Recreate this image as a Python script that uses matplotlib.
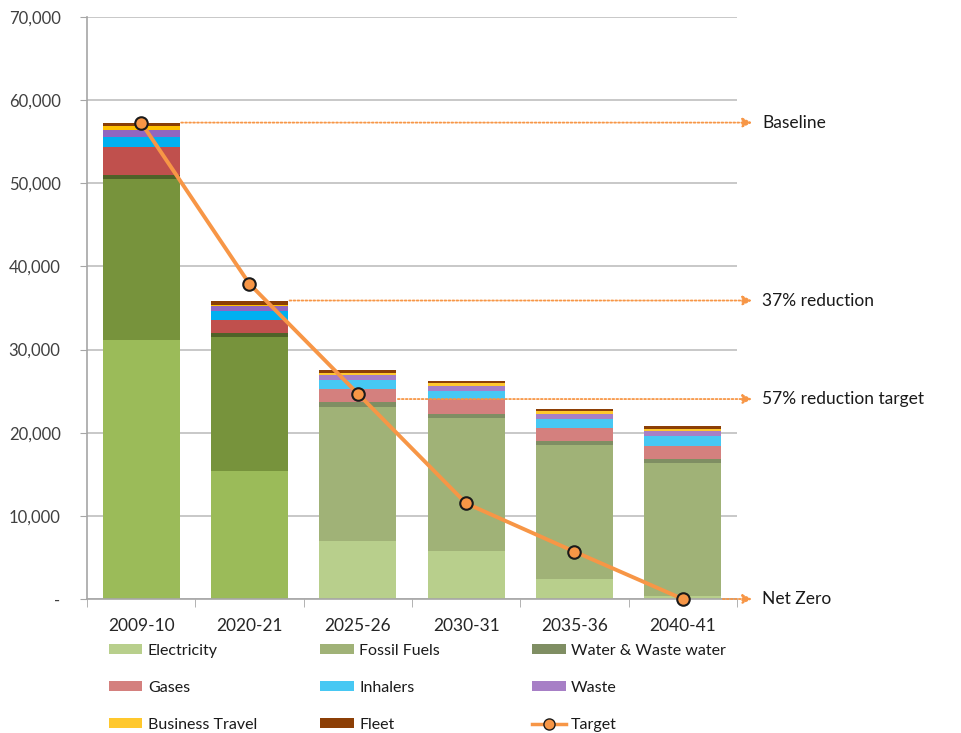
import numpy as np
import matplotlib.pyplot as plt
from matplotlib.patches import Patch
from matplotlib.lines import Line2D

plt.rcParams['font.family'] = ['Lato', 'DejaVu Sans']

years = ['2009-10', '2020-21', '2025-26', '2030-31', '2035-36', '2040-41']

# emissions by source (tCO2e)
electricity = [31200, 15400, 7000, 5800, 2400, 350]
fossil_fuels = [19300, 16100, 16100, 16000, 16100, 15970]
water = [500, 500, 600, 500, 500, 500]
gases = [3400, 1500, 1500, 1700, 1600, 1600]
inhalers = [1200, 1100, 1100, 1050, 1100, 1200]
waste = [800, 600, 600, 600, 600, 600]
business_travel = [500, 200, 300, 300, 300, 250]
fleet = [400, 500, 300, 300, 300, 350]

target = [57300, 37900, 24700, 11500, 5700, 0]

# reference lines on the right
ref_labels = ['Baseline', '37% reduction', '57% reduction target', 'Net Zero']
ref_levels = [57300, 35900, 24050, 0]
ref_start = [0, 1, 2, 5]

series = [electricity, fossil_fuels, water, gases, inhalers, waste, business_travel, fleet]
names = ['Electricity', 'Fossil Fuels', 'Water & Waste water', 'Gases', 'Inhalers',
         'Waste', 'Business Travel', 'Fleet']
# actual years in strong colours, projections in faded ones
strong = ['#9BBB59', '#77933C', '#4F6228', '#C0504D', '#00B0F0', '#9166C0', '#FFC000', '#8A3E05']
faded = ['#B8CF8C', '#A0B277', '#7F8E63', '#D4807E', '#47C8F3', '#A77FC6', '#FFC82D', '#8C3F06']

fig = plt.figure(figsize=(9.62, 7.33), dpi=100)
ax = fig.add_axes([0.0904, 0.1828, 0.6757, 0.794])

x = np.arange(len(years))
bottom = np.zeros(len(years))
for vals, cs, cf in zip(series, strong, faded):
    cols = [cs if i < 2 else cf for i in range(len(years))]
    ax.bar(x, vals, 0.71, bottom=bottom, color=cols, zorder=2)
    bottom += np.array(vals)

orange = '#F79646'
ax.plot(x, target, color=orange, lw=2.8, marker='o', ms=9, mfc=orange,
        mec='#1a1a1a', mew=1.5, zorder=4, clip_on=False)

for lab, lev, s in zip(ref_labels, ref_levels, ref_start):
    ax.annotate('', xy=(5.64, lev), xytext=(s + 0.37, lev),
                arrowprops=dict(arrowstyle='-|>', color=orange, lw=1.3,
                                linestyle=(0, (1, 1.2)), mutation_scale=14,
                                shrinkA=0, shrinkB=0),
                annotation_clip=False, zorder=3)
    ax.text(5.73, lev, lab, fontsize=12.5, color='#1a1a1a', va='center',
            ha='left', clip_on=False)

ax.set_xlim(-0.5, 5.5)
ax.set_ylim(0, 70000)
ax.set_yticks(np.arange(0, 70001, 10000))
ax.set_yticklabels(['-'] + [f'{v:,}' for v in range(10000, 70001, 10000)])
ax.set_xticks(x)
ax.set_xticklabels(years)
ax.set_xticks(np.arange(-0.5, 6, 1), minor=True)
ax.tick_params(axis='x', which='major', length=0, pad=14, labelsize=12.5, labelcolor='#262626')
ax.tick_params(axis='x', which='minor', length=6, color='#A6A6A6', direction='out')
ax.tick_params(axis='y', length=5, color='#A6A6A6', pad=14, labelsize=12, labelcolor='#404040')

ax.grid(axis='y', color='#BFBFBF', lw=1.2, zorder=0)
ax.set_axisbelow(True)
for sp in ['top', 'right']:
    ax.spines[sp].set_visible(False)
for sp in ['left', 'bottom']:
    ax.spines[sp].set_color('#A6A6A6')
    ax.spines[sp].set_linewidth(1.2)

# legend in three columns, filled row by row
handles = [Patch(facecolor=c) for c in faded]
handles.append(Line2D([], [], color=orange, lw=2.5, marker='o', ms=8, mfc=orange, mec='#1a1a1a'))
labels = names + ['Target']
col_x = [0.113, 0.333, 0.553]
for j in range(3):
    idx = [j, j + 3, j + 6]
    fig.legend([handles[i] for i in idx], [labels[i] for i in idx],
               loc='upper left', bbox_to_anchor=(col_x[j], 0.122),
               frameon=False, fontsize=11.5, handlelength=2.1, handleheight=0.55,
               handletextpad=0.35, labelspacing=1.45, borderpad=0, borderaxespad=0,
               labelcolor='#1a1a1a')

fig.savefig('out.png', dpi=100)
